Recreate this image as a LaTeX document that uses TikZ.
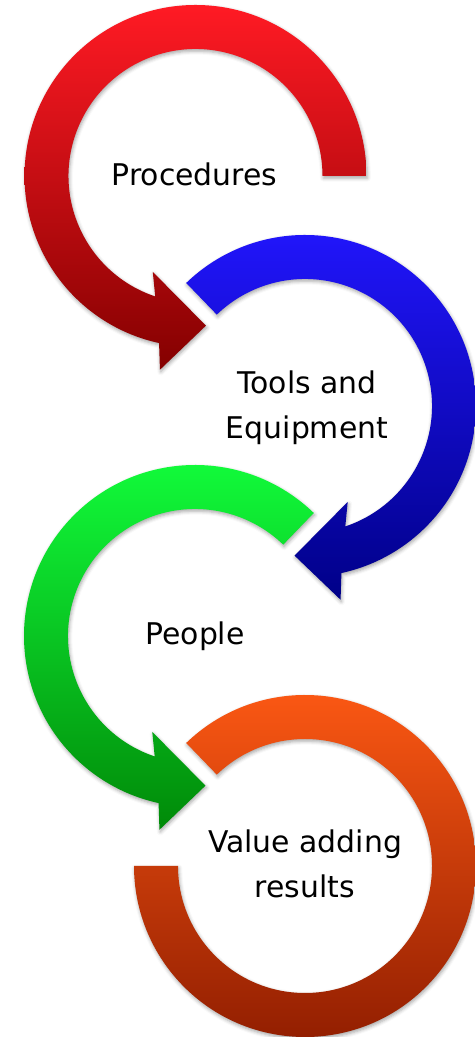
\documentclass[tikz,border=0pt]{standalone}
\usepackage{fontspec}
\setmainfont{DejaVu Sans}
\usetikzlibrary{shadows.blur}

\definecolor{redtop}{HTML}{FF1A24}
\definecolor{redbot}{HTML}{840000}
\definecolor{bluetop}{HTML}{2216FF}
\definecolor{bluebot}{HTML}{000088}
\definecolor{greentop}{HTML}{12FF3C}
\definecolor{greenbot}{HTML}{008A08}
\definecolor{orangetop}{HTML}{FF5A14}
\definecolor{orangebot}{HTML}{8E1C00}

\begin{document}
\begin{tikzpicture}[x=0.02cm,y=0.02cm,declare function={ri=127;ro=171;},
    lbl/.style={align=center,font=\fontsize{17}{25.5}\selectfont},
    soft/.style={blur shadow={shadow xshift=0.5pt,shadow yshift=-1.2pt,
      shadow blur radius=2pt,shadow opacity=35}},
    pics/turn/.style args={#1/#2/#3}{code={
      \path[soft,top color=#2,bottom color=#3]
        (#1:ro) arc[start angle=#1,end angle=257.7,radius=ro]
        -- (259.6:197) -- (274:150) -- (246:105)
        -- (251.5:ri) arc[start angle=251.5,end angle=#1,radius=ri] -- cycle;}},
   ]
   \useasboundingbox (0,0) rectangle (475,1037);
   \clip (0,0) rectangle (475,1037);
   \coordinate (P) at (195.5,861);
   \coordinate (T) at (305,631);
   \coordinate (H) at (195,401);
   \coordinate (V) at (305,171);
   \pic at (P) {turn=0/redtop/redbot};
   \pic[xscale=-1] at (T) {turn=46/bluetop/bluebot};
   \pic at (H) {turn=46/greentop/greenbot};
   \path[soft,top color=orangetop,bottom color=orangebot,shift={(V)}]
     (134:ro) arc[start angle=134,end angle=-180,radius=ro]
     -- (-180:ri) arc[start angle=-180,end angle=134,radius=ri] -- cycle;
   \node[lbl,anchor=base] (proc) at ($(P)+(-1,-10)$) {Procedures};
   \node[lbl] (tools) at ($(T)+(2,-2)$) {Tools and\\Equipment};
   \node[lbl,anchor=base] (people) at ($(H)+(0,-9)$) {People};
   \node[lbl] (value) at ($(V)+(0,2)$) {Value adding\\results};
\end{tikzpicture}
\end{document}
